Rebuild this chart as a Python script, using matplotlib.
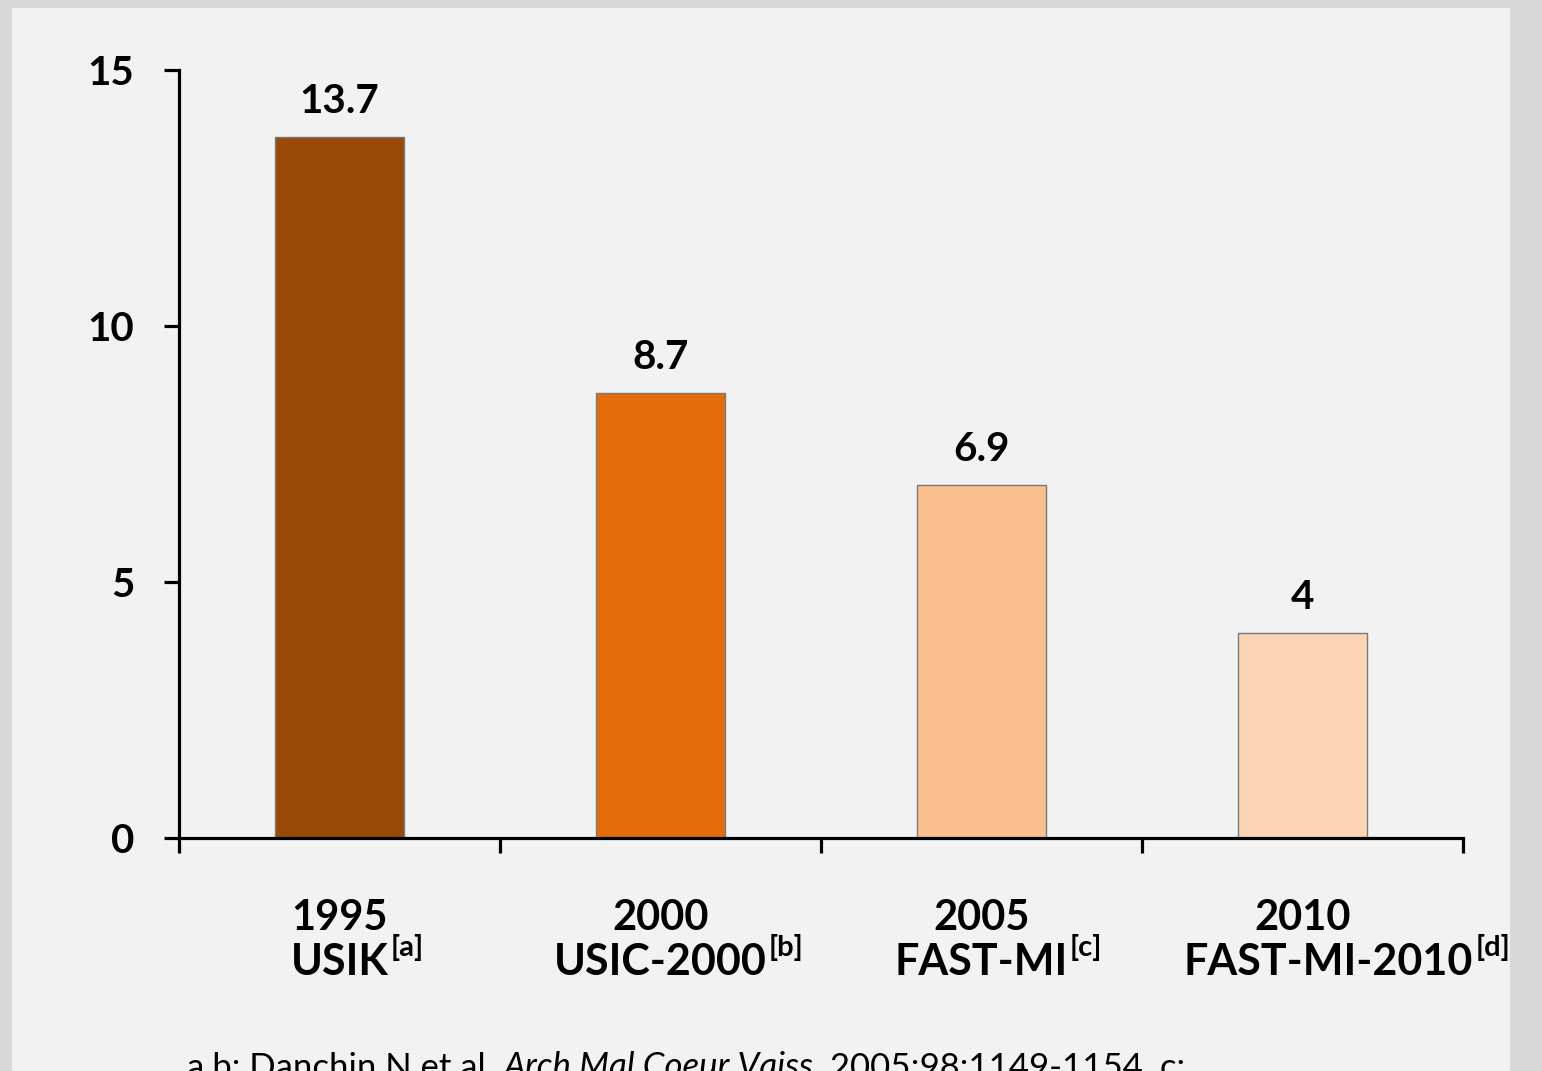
import matplotlib
matplotlib.use("Agg")
import matplotlib.pyplot as plt
from matplotlib.patches import Rectangle

# Data
years = ["1995", "2000", "2005", "2010"]
studies = ["USIK", "USIC-2000", "FAST-MI", "FAST-MI-2010"]
refs = ["[a]", "[b]", "[c]", "[d]"]
values = [13.7, 8.7, 6.9, 4.0]
value_labels = ["13.7", "8.7", "6.9", "4"]
yticks = [0, 5, 10, 15]
colors = ["#984807", "#E46C0A", "#FAC090", "#FCD5B5"]

FONT = "Lato"
W, H = 1542, 1071
DPI = 100
PX = 72.0 / DPI  # points per pixel

fig = plt.figure(figsize=(W / DPI, H / DPI), dpi=DPI)
fig.patch.set_facecolor("#d8d8d8")

# light slide panel
fig.patches.append(Rectangle((12 / W, 0), (1510 - 12) / W, (H - 8) / H,
                             transform=fig.transFigure, facecolor="#f2f2f2",
                             edgecolor="none", zorder=-10))

ax = fig.add_axes([179 / W, 1 - 838 / H, (1463 - 179) / W, (838 - 70) / H])
ax.set_facecolor("none")
ax.set_zorder(1)

x = list(range(len(values)))
ax.bar(x, values, width=0.4, color=colors, edgecolor="#7a7a7a", linewidth=1.0, zorder=2)

ax.set_xlim(-0.5, len(values) - 0.5)
ax.set_ylim(0, 15)

for s in ["top", "right"]:
    ax.spines[s].set_visible(False)
for s in ["left", "bottom"]:
    ax.spines[s].set_linewidth(2.3)
    ax.spines[s].set_color("black")
    ax.spines[s].set_zorder(3)

ax.set_yticks(yticks)
ax.set_yticklabels([str(t) for t in yticks], fontfamily=FONT, fontweight="bold", fontsize=29)
ax.tick_params(axis="y", length=11, width=2.3, pad=21, color="black")
ax.set_xticks([i - 0.5 for i in range(len(values) + 1)])
ax.set_xticklabels([])
ax.tick_params(axis="x", length=11, width=2.3, color="black")

# value labels above bars
for xi, v, lab in zip(x, values, value_labels):
    ax.annotate(lab, xy=(xi, v), xytext=(0, 24 * PX), textcoords="offset points",
                ha="center", va="baseline", fontfamily=FONT, fontweight="bold",
                fontsize=29, color="black")

# horizontal nudge (pixels) of the study-name line; the long last name sits further right
name_shift = [0, 0, 0, 26]

# category labels (year above study name)
study_texts = []
for xi, yr, st, dx in zip(x, years, studies, name_shift):
    ax.annotate(yr, xy=(xi, 0), xycoords=("data", "axes fraction"),
                xytext=(0, -92 * PX), textcoords="offset points",
                ha="center", va="baseline", fontfamily=FONT, fontweight="bold",
                fontsize=30, color="black", annotation_clip=False)
    t = ax.annotate(st, xy=(xi, 0), xycoords=("data", "axes fraction"),
                    xytext=(dx * PX, -137 * PX), textcoords="offset points",
                    ha="center", va="baseline", fontfamily=FONT, fontweight="bold",
                    fontsize=31, color="black", annotation_clip=False)
    study_texts.append(t)

# citation line
CITE_Y = -6 / H
t1 = fig.text(187 / W, CITE_Y, "a,b: Danchin N et al. ", fontfamily=FONT,
              fontsize=25, va="baseline", ha="left", color="black")
t2 = fig.text(0, CITE_Y, "Arch Mal Coeur Vaiss.", fontfamily=FONT, fontsize=25,
              style="italic", va="baseline", ha="left", color="black")
t3 = fig.text(0, CITE_Y, " 2005;98:1149-1154. c:", fontfamily=FONT, fontsize=25,
              va="baseline", ha="left", color="black")

fig.canvas.draw()
r = fig.canvas.get_renderer()
inv = fig.transFigure.inverted()

# superscript references attached to the right of each study name
for xi, t, rf, dx in zip(x, study_texts, refs, name_shift):
    half_w = t.get_window_extent(r).width / 2.0
    ax.annotate(rf, xy=(xi, 0), xycoords=("data", "axes fraction"),
                xytext=((half_w + dx + 2) * PX, (-137 + 19) * PX), textcoords="offset points",
                ha="left", va="baseline", fontfamily=FONT, fontweight="bold",
                fontsize=21, color="black", annotation_clip=False)

x_end = inv.transform((t1.get_window_extent(r).x1, 0))[0]
t2.set_position((x_end, CITE_Y))
fig.canvas.draw()
x_end = inv.transform((t2.get_window_extent(r).x1, 0))[0]
t3.set_position((x_end, CITE_Y))

fig.savefig("out.png", dpi=DPI, facecolor=fig.get_facecolor())
